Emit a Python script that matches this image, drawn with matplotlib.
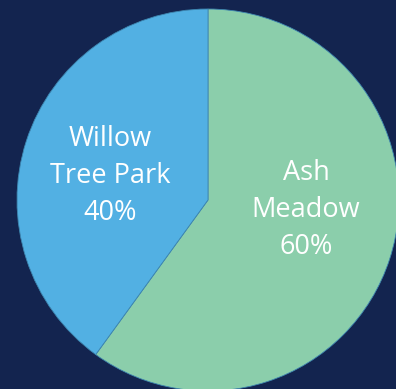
import matplotlib.pyplot as plt

# slice data
labels = ["Ash\nMeadow", "Willow\nTree Park"]
shares = [60, 40]
colors = ["#8bceab", "#52b0e3"]
bg = "#13244f"

fig = plt.figure(figsize=(3.96, 3.89), dpi=100, facecolor=bg)
ax = fig.add_axes([0, 0, 1, 1])
ax.set_facecolor(bg)

ax.pie(shares, colors=colors, startangle=90, counterclock=False, radius=1.0,
       wedgeprops=dict(edgecolor="#3d86b0", linewidth=0.6))

# pixel -> data: centre at (208, 200) px, radius 191 px
s = 191.0
ax.set_xlim(-208 / s, (396 - 208) / s)
ax.set_ylim(-(389 - 200) / s, 200 / s)
ax.set_aspect("auto")
ax.axis("off")

label_pos = [((306 - 208) / s, (200 - 210) / s), ((110 - 208) / s, (200 - 176) / s)]
for lab, sh, (x, y) in zip(labels, shares, label_pos):
    ax.text(x, y, f"{lab}\n{sh}%", ha="center", va="center", color="white",
            fontsize=19.5, family="Open Sans", linespacing=1.45)

fig.savefig("out.png", dpi=100, facecolor=bg)
